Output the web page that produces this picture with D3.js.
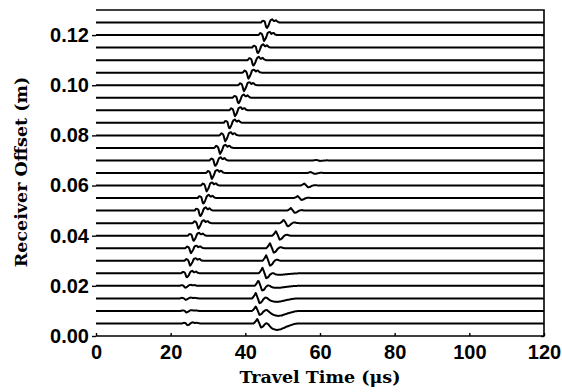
<!DOCTYPE html>
<html lang="en">
<head>
    <meta charset="UTF-8">
    <title>Receiver gather</title>
    <script src="https://d3js.org/d3.v7.min.js"></script>
    <style>
        body { margin: 0; background: #fff; }
    </style>
</head>
<body>
<svg width="562" height="392"></svg>
<script>
// receiver offsets (m), one trace each
let offsets = [0.005, 0.010, 0.015, 0.020, 0.025, 0.030, 0.035, 0.040, 0.045, 0.050,
  0.055, 0.060, 0.065, 0.070, 0.075, 0.080, 0.085, 0.090, 0.095, 0.100,
  0.105, 0.110, 0.115, 0.120, 0.125];
// first arrival: time of the trough (us) and size (px)
let firstTime = [24.5, 24.2, 24.0, 23.9, 24.3, 25.2, 25.4, 26.1, 27.4, 27.9,
  28.7, 29.6, 31.0, 31.9, 33.2, 34.6, 35.7, 37.2, 38.1, 39.6,
  40.8, 42.1, 43.3, 45.0, 45.7];
let firstAmp = [2, 1.5, 1.5, 2, 4.5, 5, 5, 5.5, 5.5, 6,
  6, 6, 6, 6, 6, 6, 6, 6, 6, 6,
  6, 6, 6, 6, 6];
// second arrival: time of the peak (us) and size (px)
let secondTime = [43.2, 42.8, 42.8, 43.5, 44.6, 45.6, 46.6, 48.2, 50.3, 52.2,
  54.0, 55.8, 57.5, 59.0, 60, 60, 60, 60, 60, 60,
  60, 60, 60, 60, 60];
let secondAmp = [4.5, 4.5, 5.5, 5.5, 5.5, 5.5, 5, 4.5, 3.5, 2.5,
  2, 2, 1, 0.5, 0, 0, 0, 0, 0, 0,
  0, 0, 0, 0, 0];
// slow broad trough near the source
let troughTime = [48.5, 48.8, 48.4, 48.5, 49.0];
let troughAmp = [6.5, 5, 3.5, 2, 1.5];

// wavelet shapes, sampled every 0.5 us from their start
let shapeFirst = {start: -1.5, v: [0, 0.35, 0.15, -1.0, -0.5, 0.35, 0.55, 0.2, 0.4, 0.1, 0]};
let shapeSecond = {start: -1, v: [0, 0.4, 1.0, 0.1, -0.9, -0.7, -0.2, 0.15, 0.2, 0.05, 0]};
let shapeTrough = {start: -3, v: [0, -0.2, -0.45, -0.7, -0.85, -0.95, -1.0, -0.95, -0.9, -0.75,
  -0.65, -0.5, -0.4, -0.3, -0.2, -0.1, -0.05, 0]};

let yTicks = [0, 0.02, 0.04, 0.06, 0.08, 0.10, 0.12];
let xTicks = [0, 20, 40, 60, 80, 100, 120];

let svg = d3.select("svg");
let x = d3.scaleLinear().domain([0, 120]).range([96, 544]);
let y = d3.scaleLinear().domain([0, 0.13]).range([336, 10]);
let pxToM = 0.13 / 326;

function shapeAt(shape, t) {
  let i = (t - shape.start) / 0.5;
  if (i <= 0 || i >= shape.v.length - 1) return 0;
  let i0 = Math.floor(i), f = i - i0;
  return shape.v[i0] * (1 - f) + shape.v[i0 + 1] * f;
}

let times = d3.range(0, 120.01, 0.2);
let traces = offsets.map((o, k) => times.map(t => {
  let a = firstAmp[k] * shapeAt(shapeFirst, t - firstTime[k])
    + secondAmp[k] * shapeAt(shapeSecond, t - secondTime[k]);
  if (k < troughTime.length) a += troughAmp[k] * shapeAt(shapeTrough, t - troughTime[k]);
  return [t, o + a * pxToM];
}));

let line = d3.line().x(d => x(d[0])).y(d => y(d[1])).curve(d3.curveMonotoneX);

svg.append("g").selectAll("path")
  .data(traces).enter().append("path")
  .attr("d", line)
  .attr("fill", "none")
  .attr("stroke", "#000")
  .attr("stroke-width", 2);

// frame: top, right, bottom
svg.append("path")
  .attr("d", `M${x(0)},${y(0.13)}H${x(120)}V${y(0)}H${x(0)}`)
  .attr("fill", "none")
  .attr("stroke", "#000")
  .attr("stroke-width", 1.6);

let yAxis = d3.axisLeft(y).tickValues(yTicks).tickFormat(d3.format(".2f")).tickSize(4).tickPadding(3);
let gy = svg.append("g").attr("transform", `translate(${x(0)},0)`).call(yAxis);
gy.select(".domain").remove();

let xAxis = d3.axisBottom(x).tickValues(xTicks).tickSize(-3).tickPadding(9);
let gx = svg.append("g").attr("transform", `translate(0,${y(0)})`).call(xAxis);
gx.select(".domain").remove();

svg.append("g").attr("transform", `translate(${x(120)},0)`)
  .call(d3.axisRight(y).tickValues(yTicks).tickSize(-3).tickFormat(""))
  .select(".domain").remove();

svg.selectAll(".tick line").attr("stroke", "#000").attr("stroke-width", 1.4);
svg.selectAll(".tick text")
  .attr("fill", "#000")
  .style("font-family", "'Liberation Sans', Arial, sans-serif")
  .style("font-weight", "bold")
  .style("font-size", "20px");

svg.append("text")
  .attr("x", 320).attr("y", 383)
  .attr("text-anchor", "middle")
  .style("font-family", "'DejaVu Serif', serif")
  .style("font-weight", "bold")
  .style("font-size", "17.5px")
  .text("Travel Time (\u03bcs)");

svg.append("text")
  .attr("transform", "translate(27,172) rotate(-90)")
  .attr("text-anchor", "middle")
  .style("font-family", "'DejaVu Serif', serif")
  .style("font-weight", "bold")
  .style("font-size", "17.5px")
  .text("Receiver Offset (m)");
</script>
</body>
</html>
